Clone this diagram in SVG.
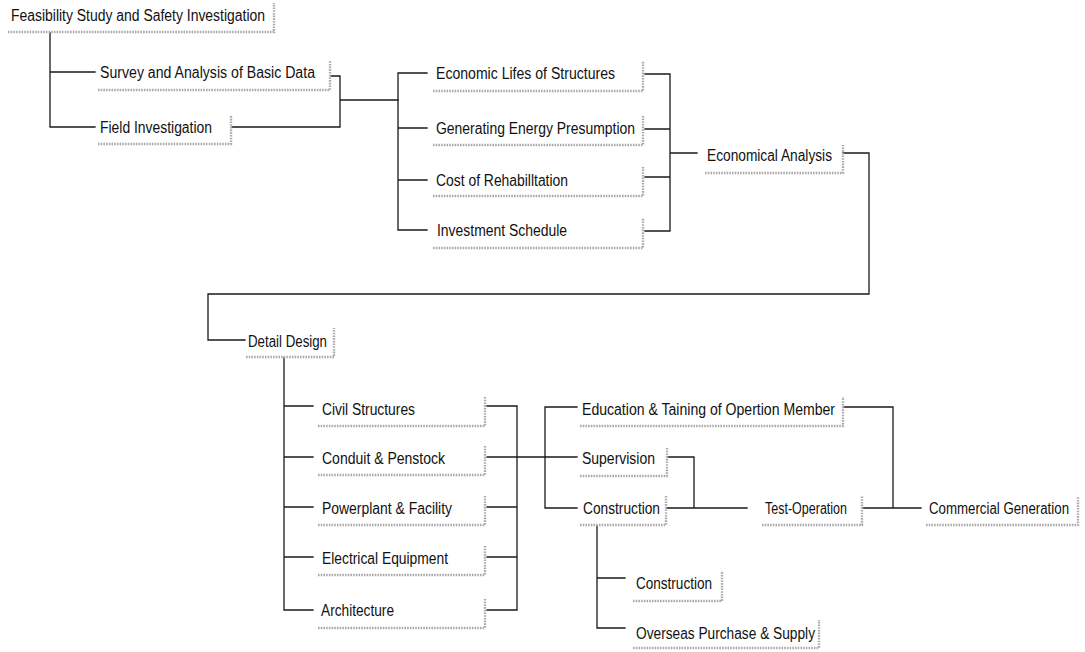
<svg xmlns="http://www.w3.org/2000/svg" width="1085" height="652" viewBox="0 0 1085 652">
<style>
.bg{fill:#ffffff}
.conn{fill:none;stroke:#1a1a1a;stroke-width:1.3;stroke-linecap:square}
.sh{fill:none;stroke:#ababab;stroke-width:2.4;stroke-dasharray:1.6 1.1}
.t{font-family:"Liberation Sans",Arial,sans-serif;font-size:16px;fill:#111111}
</style>
<rect class="bg" x="0" y="0" width="1085" height="652"/>
<g id="connectors">
<path class="conn" d="M50,33 V127 M50,72 H95 M50,127 H95"/>
<path class="conn" d="M331,76 H340 M232,127 H340 M340,76 V127 M340,100 H398"/>
<path class="conn" d="M398,73 V230 M398,73 H427 M398,128 H427 M398,180 H427 M398,230 H427"/>
<path class="conn" d="M645,74 H670 M645,129 H670 M645,177 H670 M645,231 H670 M670,74 V231 M670,153 H697"/>
<path class="conn" d="M843,153 H869 V294 H208 V340 H245"/>
<path class="conn" d="M284,358 V610 M284,406 H313 M284,457 H313 M284,507 H313 M284,557 H313 M284,610 H313"/>
<path class="conn" d="M487,406 H517 M487,457 H545 M487,507 H517 M487,557 H517 M487,610 H517 M517,406 V610"/>
<path class="conn" d="M545,407 V508 M545,407 H577 M545,457 H577 M545,508 H577"/>
<path class="conn" d="M668,457 H694 V508 M667,508 H747"/>
<path class="conn" d="M844,407 H893 V508 M863,508 H921"/>
<path class="conn" d="M597,526 V628 M597,578 H625 M597,628 H625"/>
</g>
<g id="node-feasibility">
<path class="sh" d="M8,32 H274 V3"/>
<text class="t" x="11" y="21" textLength="254" lengthAdjust="spacingAndGlyphs">Feasibility Study and Safety Investigation</text>
</g>
<g id="node-survey">
<path class="sh" d="M98,90 H330 V61"/>
<text class="t" x="100" y="78" textLength="215" lengthAdjust="spacingAndGlyphs">Survey and Analysis of Basic Data</text>
</g>
<g id="node-field">
<path class="sh" d="M98,144 H231 V115"/>
<text class="t" x="100" y="133" textLength="112" lengthAdjust="spacingAndGlyphs">Field Investigation</text>
</g>
<g id="node-economic-lifes">
<path class="sh" d="M433,91 H643 V61"/>
<text class="t" x="436" y="79" textLength="179" lengthAdjust="spacingAndGlyphs">Economic Lifes of Structures</text>
</g>
<g id="node-generating">
<path class="sh" d="M433,145 H643 V116"/>
<text class="t" x="436" y="134" textLength="199" lengthAdjust="spacingAndGlyphs">Generating Energy Presumption</text>
</g>
<g id="node-cost">
<path class="sh" d="M433,196 H643 V167"/>
<text class="t" x="436" y="186" textLength="132" lengthAdjust="spacingAndGlyphs">Cost of Rehabilltation</text>
</g>
<g id="node-investment">
<path class="sh" d="M433,248 H643 V218"/>
<text class="t" x="437" y="236" textLength="130" lengthAdjust="spacingAndGlyphs">Investment Schedule</text>
</g>
<g id="node-economical">
<path class="sh" d="M705,173 H843 V145"/>
<text class="t" x="707" y="161" textLength="125" lengthAdjust="spacingAndGlyphs">Economical Analysis</text>
</g>
<g id="node-detail">
<path class="sh" d="M246,357 H334 V328"/>
<text class="t" x="248" y="347" textLength="79" lengthAdjust="spacingAndGlyphs">Detail Design</text>
</g>
<g id="node-civil">
<path class="sh" d="M318,426 H485 V397"/>
<text class="t" x="322" y="415" textLength="93" lengthAdjust="spacingAndGlyphs">Civil Structures</text>
</g>
<g id="node-conduit">
<path class="sh" d="M318,475 H485 V446"/>
<text class="t" x="322" y="464" textLength="123" lengthAdjust="spacingAndGlyphs">Conduit &amp; Penstock</text>
</g>
<g id="node-powerplant">
<path class="sh" d="M318,525 H485 V496"/>
<text class="t" x="322" y="514" textLength="130" lengthAdjust="spacingAndGlyphs">Powerplant &amp; Facility</text>
</g>
<g id="node-electrical">
<path class="sh" d="M318,575 H485 V546"/>
<text class="t" x="322" y="564" textLength="126" lengthAdjust="spacingAndGlyphs">Electrical Equipment</text>
</g>
<g id="node-architecture">
<path class="sh" d="M318,628 H485 V598"/>
<text class="t" x="321" y="616" textLength="73" lengthAdjust="spacingAndGlyphs">Architecture</text>
</g>
<g id="node-education">
<path class="sh" d="M580,426 H843 V397"/>
<text class="t" x="582" y="415" textLength="253" lengthAdjust="spacingAndGlyphs">Education &amp; Taining of Opertion Member</text>
</g>
<g id="node-supervision">
<path class="sh" d="M580,476 H667 V447"/>
<text class="t" x="582" y="464" textLength="73" lengthAdjust="spacingAndGlyphs">Supervision</text>
</g>
<g id="node-construction">
<path class="sh" d="M580,525 H666 V496"/>
<text class="t" x="583" y="514" textLength="77" lengthAdjust="spacingAndGlyphs">Construction</text>
</g>
<g id="node-test-operation">
<path class="sh" d="M762,525 H862 V496"/>
<text class="t" x="765" y="514" textLength="82" lengthAdjust="spacingAndGlyphs">Test-Operation</text>
</g>
<g id="node-commercial">
<path class="sh" d="M926,525 H1078 V496"/>
<text class="t" x="1069" y="514" text-anchor="end" textLength="140" lengthAdjust="spacingAndGlyphs">Commercial Generation</text>
</g>
<g id="node-construction-sub">
<path class="sh" d="M633,601 H722 V571"/>
<text class="t" x="636" y="589" textLength="76" lengthAdjust="spacingAndGlyphs">Construction</text>
</g>
<g id="node-overseas">
<path class="sh" d="M633,648 H819 V620"/>
<text class="t" x="636" y="639" textLength="179" lengthAdjust="spacingAndGlyphs">Overseas Purchase &amp; Supply</text>
</g>
</svg>
